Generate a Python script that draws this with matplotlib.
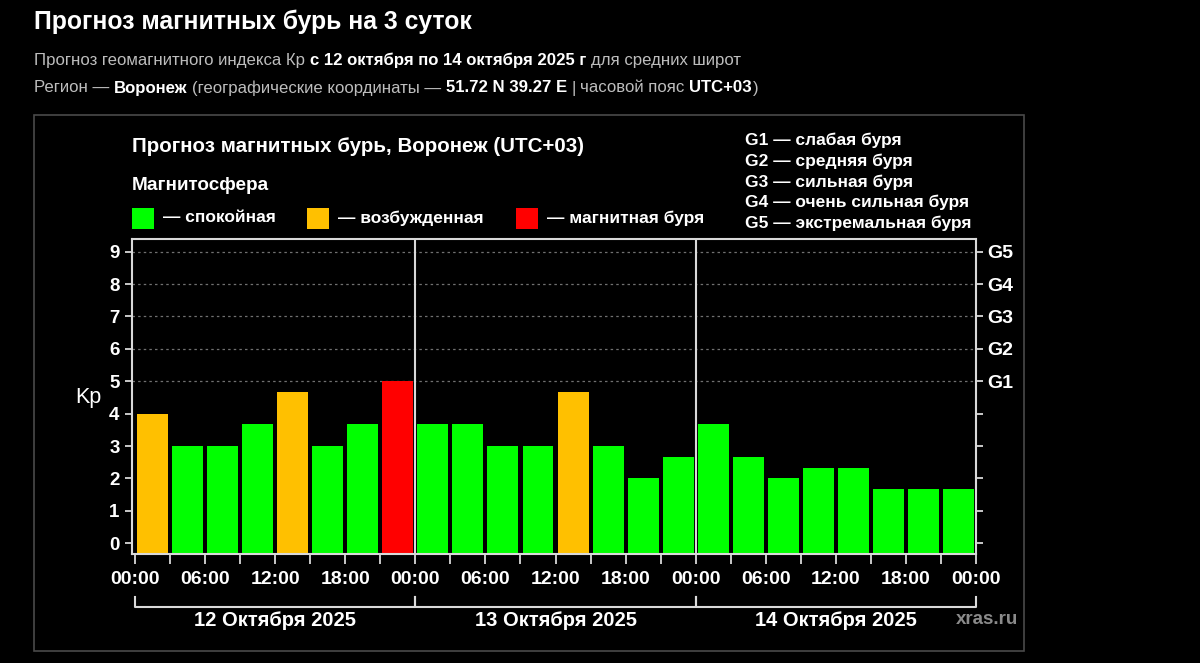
import matplotlib
matplotlib.use("Agg")
import matplotlib.pyplot as plt
from matplotlib.patches import Rectangle
from matplotlib.lines import Line2D
import matplotlib.transforms as mtransforms

plt.rcParams['font.family'] = ['Liberation Sans', 'DejaVu Sans']

# ---------------- data ----------------
kp_values = [4.00, 3.00, 3.00, 3.67, 4.67, 3.00, 3.67, 5.00,
             3.67, 3.67, 3.00, 3.00, 4.67, 3.00, 2.00, 2.67,
             3.67, 2.67, 2.00, 2.33, 2.33, 1.67, 1.67, 1.67]
hours_start = [3 * i for i in range(24)]
day_labels = ["12 Октября 2025", "13 Октября 2025", "14 Октября 2025"]
time_labels = ["00:00", "06:00", "12:00", "18:00"] * 3 + ["00:00"]
y_ticks = list(range(10))
g_labels = ["", "", "", "", "", "G1", "G2", "G3", "G4", "G5"]
g_legend = ["G1 — слабая буря", "G2 — средняя буря", "G3 — сильная буря",
            "G4 — очень сильная буря", "G5 — экстремальная буря"]
status_names = ["— спокойная", "— возбужденная", "— магнитная буря"]
status_colors = ["#00ff00", "#ffc000", "#ff0000"]

W, H = 1200, 663
fig = plt.figure(figsize=(W / 100, H / 100), dpi=100, facecolor="black")
renderer = fig.canvas.get_renderer()


def fx(x):
    return x / W


def fy(y):
    return 1 - y / H


# ---------------- header ----------------
fig.text(fx(34), fy(22), "Прогноз магнитных бурь на 3 суток", color="white",
         fontsize=17.8, weight="bold", va="center", ha="left")

GRAY = "#bdbdbd"


def runs(x, y, parts, size):
    sp_a = fig.text(0, 0, "a a", fontsize=size)
    sp_b = fig.text(0, 0, "aa", fontsize=size)
    space = sp_a.get_window_extent(renderer).width - sp_b.get_window_extent(renderer).width
    sp_a.remove()
    sp_b.remove()
    cur = x
    for txt, bold, gap in parts:
        t = fig.text(fx(cur), fy(y), txt, fontsize=size,
                     weight="bold" if bold else "normal",
                     color="white" if bold else GRAY, va="center", ha="left")
        bb = t.get_window_extent(renderer)
        cur = bb.x1 + (space if gap else 0.5)


runs(34, 60, [("Прогноз геомагнитного индекса Кр", False, True),
              ("с 12 октября по 14 октября 2025 г", True, True),
              ("для средних широт", False, False)], 12.1)
runs(34, 88, [("Регион —", False, True), ("Воронеж", True, True),
              ("(географические координаты —", False, True),
              ("51.72 N 39.27 E", True, True), ("|", False, True),
              ("часовой пояс", False, True), ("UTC+03", True, False),
              (")", False, False)], 12.1)

# outer box
fig.patches.append(Rectangle((fx(34), fy(651)), fx(1024) - fx(34), fy(115) - fy(651),
                             transform=fig.transFigure, fill=False,
                             edgecolor="#4a4a4a", linewidth=1.2))

# ---------------- chart texts ----------------
fig.text(fx(132), fy(146), "Прогноз магнитных бурь, Воронеж (UTC+03)",
         color="white", fontsize=14.8, weight="bold", va="center", ha="left")
fig.text(fx(132), fy(186), "Магнитосфера", color="white", fontsize=13.6,
         weight="bold", va="center", ha="left")

sq_x = [132, 307, 516]
for xs, name, col in zip(sq_x, status_names, status_colors):
    fig.patches.append(Rectangle((fx(xs), fy(229)), fx(21.5), 21.5 / H,
                                 transform=fig.transFigure, facecolor=col,
                                 edgecolor="none"))
    fig.text(fx(xs + 31), fy(218), name, color="white", fontsize=12.5,
             weight="bold", va="center", ha="left")

for i, g in enumerate(g_legend):
    fig.text(fx(745), fy(140.7 + 20.6 * i), g, color="white", fontsize=12.5,
             weight="bold", va="center", ha="left")

# ---------------- axes ----------------
left, right, top, bottom = 132, 976, 239.3, 554
ax = fig.add_axes([fx(left), fy(bottom), fx(right - left), (bottom - top) / H])
ax.set_facecolor("black")
ax.set_xlim(-0.26, 72)
ax.set_ylim(-0.33, 9.38)

colors = [status_colors[0] if v < 4 else (status_colors[1] if v < 5 else status_colors[2])
          for v in kp_values]

# dotted grid at storm levels
for lvl in range(5, 10):
    ax.axhline(lvl, color="#707070", linestyle=(0, (2, 2.5)), linewidth=0.9, zorder=1)

bars = ax.bar([h + 1.5 for h in hours_start], [v + 0.33 for v in kp_values],
              width=2.65, bottom=-0.33, color=colors, edgecolor="none", zorder=2)

for d in (24, 48):
    ax.axvline(d, color="#d9d9d9", linewidth=1.5, zorder=3)

for s in ax.spines.values():
    s.set_color("#d9d9d9")
    s.set_linewidth(1.5)

ax.set_yticks(y_ticks)
ax.set_yticklabels([str(v) for v in y_ticks])
ax.tick_params(axis="y", colors="#d9d9d9", labelcolor="white", length=5,
               width=1.3, pad=4, labelsize=13.5)
for lab in ax.get_yticklabels():
    lab.set_fontweight("bold")

ax.set_xticks(list(range(0, 73, 6)))
ax.set_xticklabels(time_labels)
ax.set_xticks(list(range(3, 72, 6)), minor=True)
ax.tick_params(axis="x", which="both", colors="#d9d9d9", labelcolor="white",
               length=7, width=1.3, pad=5, labelsize=14)
for lab in ax.get_xticklabels():
    lab.set_fontweight("bold")

ax.text(fx(88) , fy(398), "Kp", transform=fig.transFigure, color="white",
        fontsize=15.5, ha="center", va="center")

sec = ax.secondary_yaxis("right")
sec.set_yticks(y_ticks)
sec.set_yticklabels(g_labels)
sec.tick_params(colors="#d9d9d9", labelcolor="white", length=5, width=1.3,
                pad=3, labelsize=14)
for lab in sec.get_yticklabels():
    lab.set_fontweight("bold")
sec.spines["right"].set_visible(False)

# day brackets
trans = mtransforms.blended_transform_factory(ax.transData, ax.transAxes)
y_line = (bottom - 606.7) / (bottom - top)
y_tick_top = (bottom - 597) / (bottom - top)
y_lab = (bottom - 620) / (bottom - top)
for i, lab in enumerate(day_labels):
    a, b = 24 * i, 24 * (i + 1)
    ax.add_line(Line2D([a, a, b, b], [y_tick_top, y_line, y_line, y_tick_top],
                       transform=trans, color="#d9d9d9", linewidth=1.5,
                       clip_on=False))
    ax.text((a + b) / 2, y_lab, lab, transform=trans, color="white",
            fontsize=14.5, weight="bold", ha="center", va="center")

fig.text(fx(987), fy(620), "xras.ru", color="#8a8a8a", fontsize=13.5,
         weight="bold", ha="center", va="center")

fig.savefig("out.png", dpi=100, facecolor="black")
